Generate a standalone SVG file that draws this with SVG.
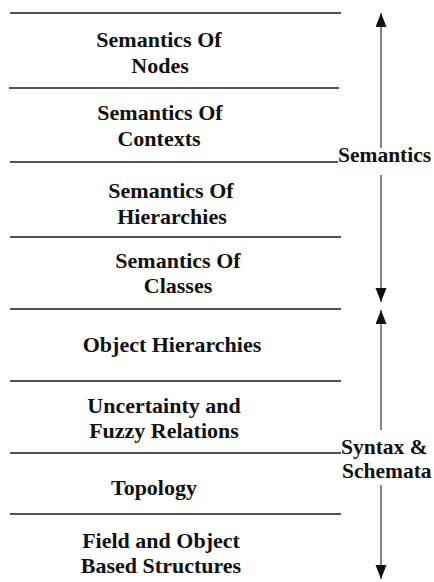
<svg xmlns="http://www.w3.org/2000/svg" width="434" height="582" viewBox="0 0 434 582">
<style>
  .t { font-family: "Liberation Serif", "Times New Roman", serif; font-weight: bold; font-size: 22px; fill: #111; text-anchor: middle; }
  .lbl { font-family: "Liberation Serif", "Times New Roman", serif; font-weight: bold; font-size: 21.5px; fill: #111; }
  .sep { stroke: #1a1a1a; stroke-width: 1.5; fill: none; }
  .arr { stroke: #333; stroke-width: 1.2; fill: none; marker-end: url(#ah); }
</style>
<defs>
  <marker id="ah" markerUnits="userSpaceOnUse" markerWidth="15" markerHeight="12" refX="14" refY="5.5" orient="auto">
    <path d="M0,0 L14,5.5 L0,11 z" fill="#111"/>
  </marker>
</defs>
<rect width="434" height="582" fill="#fff"/>
<g id="separators">
  <line class="sep" x1="10" y1="13" x2="341" y2="13"/>
  <line class="sep" x1="9" y1="88" x2="339" y2="88"/>
  <line class="sep" x1="10" y1="162" x2="338" y2="162"/>
  <line class="sep" x1="10" y1="237" x2="341" y2="237"/>
  <line class="sep" x1="10" y1="309" x2="341" y2="309"/>
  <line class="sep" x1="10" y1="381" x2="341" y2="381"/>
  <line class="sep" x1="10" y1="453" x2="341" y2="453"/>
  <line class="sep" x1="10" y1="514" x2="341" y2="514"/>
</g>
<g id="layer-nodes">
  <text class="t" x="159" y="47">Semantics Of</text>
  <text class="t" x="160" y="73">Nodes</text>
</g>
<g id="layer-contexts">
  <text class="t" x="160" y="120">Semantics Of</text>
  <text class="t" x="159" y="146">Contexts</text>
</g>
<g id="layer-hierarchies">
  <text class="t" x="171" y="198">Semantics Of</text>
  <text class="t" x="172" y="224">Hierarchies</text>
</g>
<g id="layer-classes">
  <text class="t" x="178" y="268">Semantics Of</text>
  <text class="t" x="178" y="293">Classes</text>
</g>
<g id="layer-object-hierarchies">
  <text class="t" x="172" y="352">Object Hierarchies</text>
</g>
<g id="layer-uncertainty">
  <text class="t" x="164" y="413">Uncertainty and</text>
  <text class="t" x="164" y="438">Fuzzy Relations</text>
</g>
<g id="layer-topology">
  <text class="t" x="154" y="495">Topology</text>
</g>
<g id="layer-field-object">
  <text class="t" x="161" y="548">Field and Object</text>
  <text class="t" x="161" y="573">Based Structures</text>
</g>
<g id="label-semantics">
  <text class="lbl" x="338" y="162">Semantics</text>
</g>
<g id="label-syntax">
  <text class="lbl" x="341" y="454">Syntax &amp;</text>
  <text class="lbl" x="342" y="478">Schemata</text>
</g>
<g id="connectors">
  <line class="arr" x1="381" y1="148" x2="381" y2="13"/>
  <line class="arr" x1="381" y1="175" x2="381" y2="302"/>
  <line class="arr" x1="381" y1="430" x2="381" y2="310"/>
  <line class="arr" x1="381" y1="485" x2="381" y2="579"/>
</g>
</svg>
